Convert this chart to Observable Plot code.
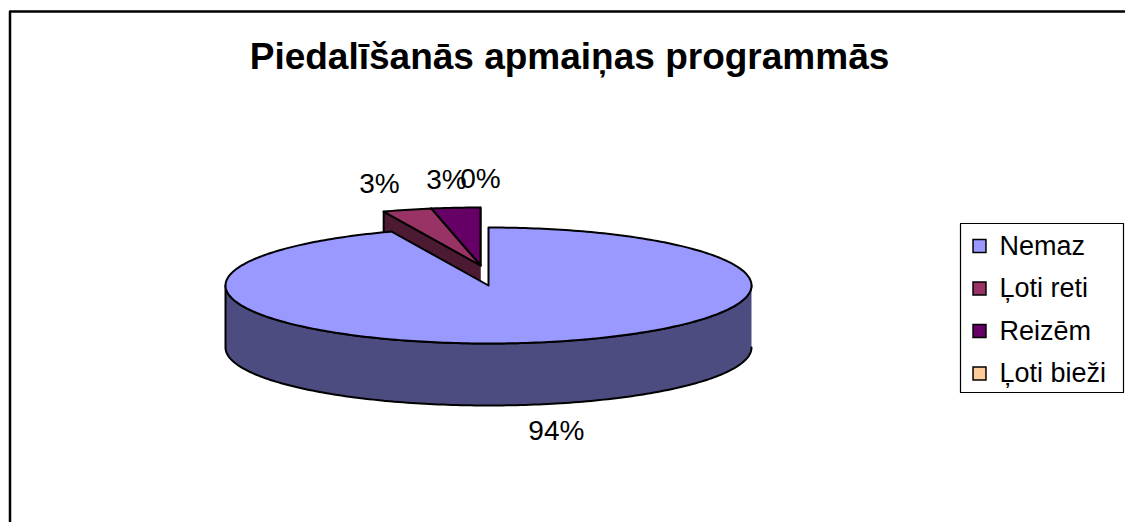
<!DOCTYPE html>
<html><head><meta charset="utf-8">
<script src="https://cdn.jsdelivr.net/npm/d3@7"></script>
<script src="https://cdn.jsdelivr.net/npm/@observablehq/plot@0.6"></script>
<style>body{margin:0;background:#fff;overflow:hidden}</style>
</head><body><div id="chart"></div>
<script>
// ---- data ----
const title = "Piedalīšanās apmaiņas programmās";
const categories = ["Nemaz", "Ļoti reti", "Reizēm", "Ļoti bieži"];
const percents = [94, 3, 3, 0];
const pctLabels = ["94%", "3%", "3%", "0%"];
const topColors = ["#9999FF", "#993366", "#660066", "#FFCC99"];
const sideColors = ["#4C4C80", "#4D1A33", "#330033", "#80664C"];

// ---- layout / style ----
const W = 1125, H = 522;
const cx = 480, cy = 265, rx = 263, ry = 58, depth = 62;
const explode = [{dx: 8, dy: 20}, {dx: 0, dy: 0}, {dx: 0, dy: 0}, {dx: 0, dy: 0}];
const labelRx = 362, labelRy = 86;
const font = "'Liberation Sans', Arial, sans-serif";

const total = d3.sum(percents);
let cum = 0;
const slices = categories.map((name, i) => {
  const a0 = cum / total * 2 * Math.PI; cum += percents[i];
  const a1 = cum / total * 2 * Math.PI;
  return {i, name, a0, a1, mid: (a0 + a1) / 2, c: {x: cx + explode[i].dx, y: cy + explode[i].dy}};
});
const pt = (c, a, dz = 0) => [c.x + rx * Math.sin(a), c.y - ry * Math.cos(a) + dz];
function arc(c, a0, a1, dz = 0) {
  const n = Math.max(1, Math.ceil(Math.abs(a1 - a0) / (Math.PI / 180)));
  return d3.range(n + 1).map(k => pt(c, a0 + (a1 - a0) * k / n, dz));
}
const polys = [];
let pid = 0;
function addPoly(points, fill) { const id = pid++; points.forEach(([x, y]) => polys.push({id, fill, x, y})); }
const order = slices.slice().sort((a, b) => Math.cos(b.mid) - Math.cos(a.mid));
for (const s of order) {
  const {c, a0, a1, i} = s;
  const lo = Math.max(a0, Math.PI / 2), hi = Math.min(a1, 3 * Math.PI / 2);
  if (hi > lo) addPoly([...arc(c, lo, hi), ...arc(c, hi, lo, depth)], sideColors[i]);
  if (Math.sin(a0) < -1e-9) addPoly([[c.x, c.y], pt(c, a0), pt(c, a0, depth), [c.x, c.y + depth]], sideColors[i]);
  if (Math.sin(a1) > 1e-9) addPoly([[c.x, c.y], pt(c, a1), pt(c, a1, depth), [c.x, c.y + depth]], sideColors[i]);
  addPoly([[c.x, c.y], ...arc(c, a0, a1), [c.x, c.y]], topColors[i]);
}
const labelPos = slices.map(s => ({
  x: s.c.x + labelRx * Math.sin(s.mid),
  y: s.c.y - labelRy * Math.cos(s.mid) + depth * (1 - Math.cos(s.mid)) / 2,
  text: pctLabels[s.i]
}));
const frame = [{x: 9.5, y: 700}, {x: 9.5, y: 11}, {x: 1300, y: 11}];
const legendBox = [{x: 960, y: 223}, {x: 1123, y: 223}, {x: 1123, y: 392}, {x: 960, y: 392}, {x: 960, y: 223}];
const legend = categories.map((name, i) => ({name, fill: topColors[i], y: 245.5 + i * 42.5}));

const chart = Plot.plot({
  width: W, height: H, margin: 0,
  x: {domain: [0, W], range: [0, W], axis: null},
  y: {domain: [0, H], range: [0, H], axis: null},
  color: {type: "identity"},
  style: {background: "white"},
  marks: [
    Plot.line(frame, {x: "x", y: "y", stroke: "black", strokeWidth: 2.5}),
    Plot.text([title], {x: () => 569, y: () => 57, text: d => d, fontSize: 37, fontWeight: "bold", fontFamily: font, fill: "black"}),
    Plot.line(polys, {x: "x", y: "y", z: "id", fill: "fill", stroke: "black", strokeWidth: 2, strokeLinejoin: "round", curve: "linear"}),
    Plot.text(labelPos, {x: "x", y: "y", text: "text", fontSize: 28, fontFamily: font, fill: "black"}),
    Plot.line(legendBox, {x: "x", y: "y", stroke: "black", strokeWidth: 1.2}),
    Plot.dot(legend, {x: () => 979, y: "y", symbol: "square", r: 7.3, fill: "fill", stroke: "black", strokeWidth: 1.5}),
    Plot.text(legend, {x: () => 999, y: "y", text: "name", textAnchor: "start", fontSize: 27, fontFamily: font, fill: "black"})
  ]
});
document.getElementById("chart").append(chart);
</script>
</body></html>
